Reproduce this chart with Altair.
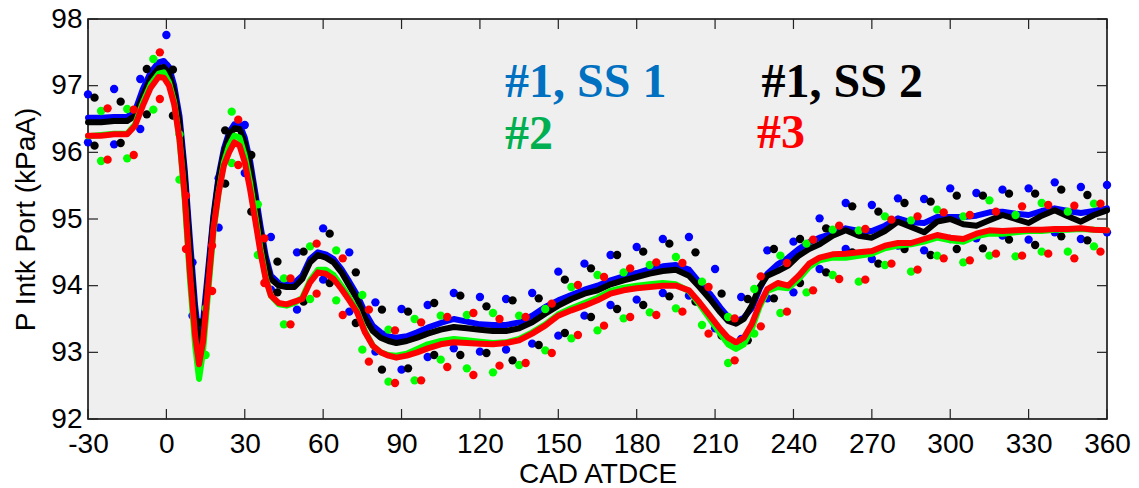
import altair as alt
import pandas as pd

# Crank angle grid of the averaged pressure traces (deg ATDCE)
line_x = [-30, -25, -20, -15, -12, -9, -6, -3, -1, 1,
          3, 5, 7, 9, 11, 12.5, 14, 16, 18, 20,
          22, 24, 26, 28, 30, 32, 34, 36, 38, 40,
          43, 46, 49, 52, 55, 58, 61, 64, 67, 70,
          73, 76, 79, 82, 85, 88, 92, 96, 100, 105,
          110, 115, 120, 125, 130, 135, 140, 145, 150, 155,
          160, 165, 170, 175, 180, 185, 190, 195, 200, 204,
          208, 212, 215, 218, 221, 224, 227, 230, 234, 238,
          242, 246, 250, 255, 260, 265, 270, 275, 280, 285,
          290, 295, 300, 305, 310, 315, 320, 325, 330, 335,
          340, 345, 350, 355, 360]

# Averaged intake-port pressure (kPaA)
blue_line = [96.52, 96.52, 96.53, 96.53, 96.62, 96.95, 97.20, 97.35, 97.37, 97.28,
             97.00, 96.55, 95.75, 94.70, 93.70, 93.20, 93.45, 94.25, 95.05, 95.65,
             96.05, 96.30, 96.42, 96.42, 96.22, 95.88, 95.40, 94.90, 94.45, 94.15,
             94.04, 94.02, 94.04, 94.15, 94.40, 94.50, 94.47, 94.40, 94.25, 94.06,
             93.86, 93.60, 93.40, 93.30, 93.24, 93.22, 93.24, 93.30, 93.37, 93.44,
             93.50, 93.46, 93.42, 93.41, 93.41, 93.45, 93.55, 93.68, 93.78, 93.86,
             93.94, 94.00, 94.08, 94.14, 94.19, 94.25, 94.29, 94.31, 94.24, 94.05,
             93.88, 93.67, 93.53, 93.46, 93.52, 93.66, 93.95, 94.18, 94.32, 94.42,
             94.55, 94.65, 94.72, 94.78, 94.86, 94.82, 94.82, 94.90, 95.01, 94.95,
             94.94, 95.03, 95.03, 95.03, 95.05, 95.10, 95.11, 95.08, 95.06, 95.12,
             95.16, 95.12, 95.09, 95.12, 95.16]

black_line = [96.45, 96.45, 96.47, 96.47, 96.55, 96.85, 97.12, 97.26, 97.28, 97.18,
              96.92, 96.45, 95.65, 94.55, 93.55, 93.05, 93.30, 94.15, 95.00, 95.60,
              96.00, 96.25, 96.36, 96.35, 96.15, 95.80, 95.30, 94.80, 94.38, 94.10,
              94.00, 93.98, 93.98, 94.10, 94.35, 94.46, 94.42, 94.35, 94.20, 94.00,
              93.80, 93.52, 93.32, 93.22, 93.17, 93.14, 93.17, 93.22, 93.28, 93.34,
              93.38, 93.36, 93.34, 93.32, 93.32, 93.36, 93.45, 93.58, 93.70, 93.80,
              93.88, 93.93, 94.02, 94.08, 94.13, 94.18, 94.22, 94.24, 94.15, 93.98,
              93.80, 93.60, 93.47, 93.43, 93.50, 93.70, 93.98, 94.15, 94.22, 94.30,
              94.45, 94.55, 94.62, 94.75, 94.83, 94.75, 94.72, 94.82, 94.96, 94.88,
              94.80, 94.96, 95.00, 94.92, 94.90, 94.98, 95.06, 95.00, 94.94, 95.05,
              95.13, 95.04, 94.96, 95.06, 95.13]

green_line = [96.24, 96.26, 96.28, 96.28, 96.42, 96.75, 97.02, 97.18, 97.20, 97.05,
              96.75, 96.20, 95.30, 94.10, 93.10, 92.60, 93.00, 93.90, 94.80, 95.40,
              95.85, 96.10, 96.25, 96.22, 95.95, 95.55, 95.05, 94.55, 94.12, 93.85,
              93.72, 93.70, 93.74, 93.82, 94.08, 94.24, 94.24, 94.16, 94.00, 93.82,
              93.62, 93.32, 93.10, 93.00, 92.96, 92.95, 92.98, 93.05, 93.12, 93.17,
              93.20, 93.18, 93.16, 93.14, 93.15, 93.20, 93.30, 93.42, 93.57, 93.66,
              93.74, 93.82, 93.92, 93.97, 94.00, 94.02, 94.04, 94.02, 93.92, 93.72,
              93.50, 93.28, 93.12, 93.05, 93.12, 93.35, 93.68, 93.92, 93.98, 93.96,
              94.10, 94.28, 94.38, 94.42, 94.42, 94.45, 94.48, 94.56, 94.60, 94.62,
              94.66, 94.72, 94.68, 94.66, 94.74, 94.78, 94.78, 94.80, 94.82, 94.82,
              94.84, 94.84, 94.85, 94.84, 94.83]

red_line = [96.25, 96.25, 96.27, 96.27, 96.40, 96.70, 96.97, 97.13, 97.12, 97.00,
            96.72, 96.20, 95.35, 94.20, 93.25, 92.82, 93.15, 94.00, 94.85, 95.40,
            95.80, 96.00, 96.15, 96.10, 95.85, 95.45, 94.98, 94.50, 94.10, 93.85,
            93.74, 93.72, 93.76, 93.80, 94.05, 94.20, 94.18, 94.10, 93.95, 93.78,
            93.60, 93.30, 93.10, 93.00, 92.95, 92.92, 92.95, 93.00, 93.06, 93.12,
            93.15, 93.14, 93.13, 93.12, 93.14, 93.18, 93.28, 93.40, 93.55, 93.63,
            93.70, 93.78, 93.88, 93.93, 93.96, 93.98, 94.00, 94.00, 93.93, 93.75,
            93.55, 93.35, 93.22, 93.15, 93.22, 93.42, 93.72, 93.95, 94.04, 94.00,
            94.15, 94.33, 94.42, 94.47, 94.48, 94.50, 94.52, 94.60, 94.64, 94.64,
            94.70, 94.76, 94.72, 94.70, 94.78, 94.83, 94.82, 94.83, 94.84, 94.84,
            94.85, 94.85, 94.86, 94.84, 94.83]

# Cycle extremes sampled every 10 deg (each run on its own phase)
blue_cad = [-30, -20, -10, 0, 10, 20, 30, 40, 50, 60,
            70, 80, 90, 100, 110, 120, 130, 140, 150, 160,
            170, 180, 190, 200, 210, 220, 230, 240, 250, 260,
            270, 280, 290, 300, 310, 320, 330, 340, 350, 360]
blue_hi = [96.87, 96.95, 97.10, 97.76, 94.35, 95.61, 96.41, 94.73, 94.50, 94.86,
           94.50, 93.75, 93.65, 93.71, 93.89, 93.83, 93.80, 93.89, 94.21, 94.33,
           94.46, 94.58, 94.70, 94.73, 94.25, 93.83, 94.53, 94.66, 95.01, 95.24,
           95.21, 95.31, 95.30, 95.46, 95.39, 95.44, 95.46, 95.55, 95.48, 95.51]
blue_lo = [96.15, 96.12, 96.35, 97.30, 93.55, 94.87, 95.69, 93.94, 93.64, 94.09,
           93.61, 93.01, 92.74, 92.93, 93.06, 93.01, 93.04, 93.13, 93.25, 93.55,
           93.71, 93.79, 93.89, 93.85, 93.36, 93.20, 93.81, 93.90, 94.25, 94.55,
           94.40, 94.60, 94.53, 94.70, 94.71, 94.75, 94.69, 94.80, 94.70, 94.80]

black_cad = [-27.5, -17.5, -7.5, 2.5, 12.5, 22.5, 32.5, 42.5, 52.5, 62.5,
             72.5, 82.5, 92.5, 102.5, 112.5, 122.5, 132.5, 142.5, 152.5, 162.5,
             172.5, 182.5, 192.5, 202.5, 212.5, 222.5, 232.5, 242.5, 252.5, 262.5,
             272.5, 282.5, 292.5, 302.5, 312.5, 322.5, 332.5, 342.5, 352.5]
black_hi = [96.82, 96.76, 97.25, 97.24, 93.45, 96.33, 95.96, 94.36, 94.51, 94.78,
            94.20, 93.64, 93.61, 93.74, 93.85, 93.69, 93.78, 93.81, 94.09, 94.26,
            94.46, 94.51, 94.63, 94.50, 93.88, 93.80, 94.55, 94.70, 94.86, 95.19,
            95.11, 95.24, 95.26, 95.35, 95.35, 95.38, 95.38, 95.44, 95.36]
black_lo = [96.10, 96.14, 96.57, 96.55, 93.10, 95.53, 95.11, 93.90, 93.76, 94.04,
            93.44, 92.74, 92.76, 92.96, 92.96, 92.99, 92.88, 93.11, 93.29, 93.53,
            93.65, 93.71, 93.84, 93.76, 93.25, 93.18, 93.81, 94.04, 94.20, 94.50,
            94.33, 94.55, 94.46, 94.55, 94.56, 94.69, 94.61, 94.74, 94.68]

green_cad = [-25, -15, -5, 5, 15, 25, 35, 45, 55, 65,
             75, 85, 95, 105, 115, 125, 135, 145, 155, 165,
             175, 185, 195, 205, 215, 225, 235, 245, 255, 265,
             275, 285, 295, 305, 315, 325, 335, 345, 355]
green_hi = [96.62, 96.65, 97.40, 96.27, 93.66, 96.61, 95.22, 94.11, 94.59, 94.53,
            93.86, 93.34, 93.50, 93.55, 93.56, 93.59, 93.55, 93.65, 93.98, 94.16,
            94.20, 94.31, 94.43, 94.06, 93.53, 93.95, 94.45, 94.63, 94.84, 94.83,
            95.04, 94.98, 95.14, 95.04, 95.28, 95.06, 95.24, 95.11, 95.23]
green_lo = [95.87, 95.91, 96.64, 95.59, 92.96, 95.84, 94.46, 93.42, 93.80, 93.78,
            93.04, 92.56, 92.58, 92.89, 92.76, 92.70, 92.81, 93.03, 93.21, 93.33,
            93.51, 93.60, 93.66, 93.41, 92.84, 93.28, 93.59, 93.90, 94.16, 94.06,
            94.31, 94.21, 94.45, 94.35, 94.45, 94.44, 94.51, 94.51, 94.59]

red_cad = [-22.5, -12.5, -2.5, 7.5, 17.5, 27.5, 37.5, 47.5, 57.5, 67.5,
           77.5, 87.5, 97.5, 107.5, 117.5, 127.5, 137.5, 147.5, 157.5, 167.5,
           177.5, 187.5, 197.5, 207.5, 217.5, 227.5, 237.5, 247.5, 257.5, 267.5,
           277.5, 287.5, 297.5, 307.5, 317.5, 327.5, 337.5, 347.5, 357.5]
red_hi = [96.66, 96.64, 97.50, 95.35, 94.60, 96.49, 94.71, 94.11, 94.63, 94.41,
          93.64, 93.33, 93.45, 93.53, 93.59, 93.50, 93.53, 93.73, 94.01, 94.13,
          94.26, 94.35, 94.34, 93.98, 93.51, 94.14, 94.34, 94.69, 94.90, 94.85,
          94.99, 95.04, 95.10, 95.06, 95.11, 95.19, 95.21, 95.20, 95.23]
red_lo = [95.89, 95.96, 96.80, 94.55, 93.92, 95.81, 94.04, 93.42, 93.88, 93.56,
          92.86, 92.54, 92.58, 92.78, 92.66, 92.80, 92.84, 92.99, 93.26, 93.40,
          93.53, 93.56, 93.61, 93.28, 92.88, 93.39, 93.61, 93.93, 94.10, 94.09,
          94.33, 94.24, 94.41, 94.38, 94.48, 94.45, 94.48, 94.41, 94.51]

x_ticks = [-30, 0, 30, 60, 90, 120, 150, 180, 210, 240, 270, 300, 330, 360]
y_ticks = [92, 93, 94, 95, 96, 97, 98]

labels = ["#1, SS 1", "#2", "#1, SS 2", "#3"]
label_colors = ["#0070C0", "#00B050", "#000000", "#FF0000"]
label_cad = [129.6, 129.6, 227.8, 226.0]
label_p = [96.83, 96.05, 96.83, 96.07]

W, H = 1019, 400
FONT = "Liberation Sans"

xs = alt.Scale(domain=[-30, 360], nice=False, zero=False)
ys = alt.Scale(domain=[92, 98], nice=False, zero=False)
x_axis = alt.Axis(values=x_ticks, grid=False, ticks=False, tickSize=0, domain=False,
                  labelExpr="'' + datum.value",
                  labelFont=FONT, labelFontSize=28, labelColor="black",
                  labelPadding=11, labelFlush=False, labelOverlap=False,
                  titleFont=FONT, titleFontSize=28, titleFontWeight="normal",
                  titleColor="black", titlePadding=2)
y_axis = alt.Axis(values=y_ticks, grid=False, ticks=False, tickSize=0, domain=False,
                  labelExpr="'' + datum.value",
                  labelFont=FONT, labelFontSize=28, labelColor="black",
                  labelPadding=6, labelFlush=False, labelOverlap=False,
                  titleFont=FONT, titleFontSize=28, titleFontWeight="normal",
                  titleColor="black", titlePadding=10)


def X():
    return alt.X("cad:Q", scale=xs, axis=x_axis, title="CAD ATDCE")


def Y():
    return alt.Y("p:Q", scale=ys, axis=y_axis, title="P Intk Port (kPaA)")


def run_layers(cad, hi, lo, line, color):
    pts = pd.DataFrame({"cad": cad + cad, "p": hi + lo})
    trace = pd.DataFrame({"cad": line_x, "p": line})
    dots = alt.Chart(pts).mark_circle(size=70, opacity=1, color=color).encode(x=X(), y=Y())
    curve = alt.Chart(trace).mark_line(strokeWidth=6, color=color, strokeJoin="round",
                                       strokeCap="round").encode(x=X(), y=Y())
    return [dots, curve]


layers = []
layers += run_layers(blue_cad, blue_hi, blue_lo, blue_line, "#0000FF")
layers += run_layers(black_cad, black_hi, black_lo, black_line, "#000000")
layers += run_layers(green_cad, green_hi, green_lo, green_line, "#00FF00")
layers += run_layers(red_cad, red_hi, red_lo, red_line, "#FF0000")

# Inward tick marks on all four sides of the frame
xt = pd.DataFrame({"cad": x_ticks})
yt = pd.DataFrame({"p": y_ticks})
tick_style = dict(color="#222222", strokeWidth=1.2)
layers.append(alt.Chart(xt).mark_rule(**tick_style).encode(x=X(), y=alt.value(H), y2=alt.value(H - 10)))
layers.append(alt.Chart(xt).mark_rule(**tick_style).encode(x=X(), y=alt.value(0), y2=alt.value(10)))
layers.append(alt.Chart(yt).mark_rule(**tick_style).encode(y=Y(), x=alt.value(0), x2=alt.value(10)))
layers.append(alt.Chart(yt).mark_rule(**tick_style).encode(y=Y(), x=alt.value(W), x2=alt.value(W - 10)))

# Run labels
lab = pd.DataFrame({"cad": label_cad, "p": label_p, "txt": labels, "col": label_colors})
layers.append(
    alt.Chart(lab).mark_text(font="Liberation Serif", fontSize=48, fontWeight="bold",
                             align="left", baseline="alphabetic").encode(
        x=X(), y=Y(), text="txt:N",
        color=alt.Color("col:N", scale=None, legend=None))
)

chart = alt.layer(*layers).properties(
    width=W, height=H,
    autosize=alt.AutoSizeParams(type="none"),
    padding={"left": 88, "top": 19, "right": 32, "bottom": 69},
    background="white",
).configure_view(fill="#EFEFEF", stroke="black", strokeWidth=1.5)

chart.save("out.html", embed_options={"renderer": "svg", "actions": False})
